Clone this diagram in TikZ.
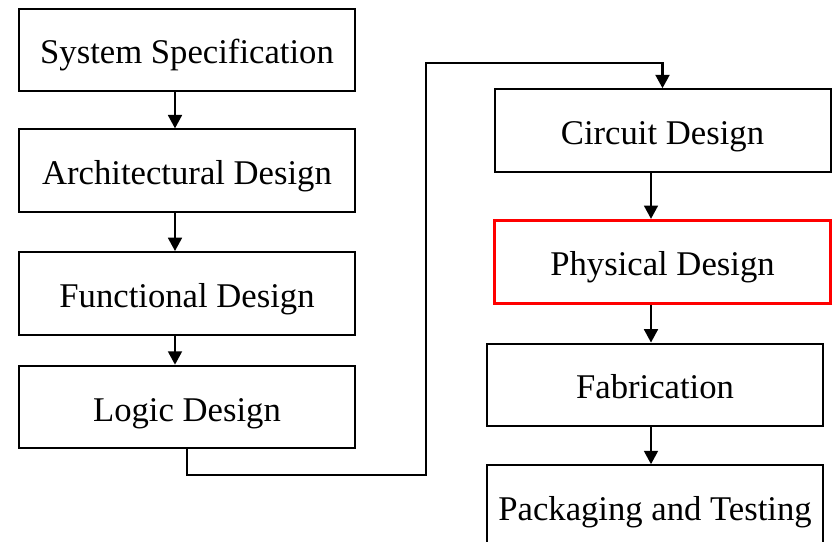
\documentclass[tikz,border=0pt]{standalone}
\usepackage{fontspec}
\setmainfont{Liberation Serif}
\usepackage{tikz}
\usetikzlibrary{arrows.meta, positioning}

\begin{document}
\begin{tikzpicture}[x=0.75pt, y=-0.75pt, font=\fontsize{26pt}{30pt}\selectfont,
    stage/.style={draw, line width=1.5pt, minimum width=252pt, minimum height=62pt, inner sep=2pt,
        text height=23pt, text depth=2pt},
    arr/.style={-{Triangle[width=10.5pt, length=10pt]}, line width=1.3pt}]
    \useasboundingbox (0,0) rectangle (836,542);
    \clip (0,0) rectangle (836,542);
    % left column
    \node[stage] (sys) at (187,50) {System Specification};
    \node[stage, below=27pt of sys] (arch) {Architectural Design};
    \node[stage, below=28.5pt of arch] (func) {Functional Design};
    \node[stage, below=21.75pt of func] (logic) {Logic Design};
    % right column
    \node[stage] (circuit) at (662.5,130.5) {Circuit Design};
    \node[stage, draw=red, line width=2.25pt, below=34.5pt of circuit] (phys) {Physical Design};
    \node[stage, below=28.5pt of phys, xshift=-5.6pt] (fab) {Fabrication};
    \node[stage, below=27.75pt of fab] (pack) {Packaging and Testing};
    \coordinate (lcol) at (175,0);
    \coordinate (rcol) at (651,0);
    \coordinate (low) at (426,475);
    \coordinate (high) at (426,63);
    \draw[arr] (sys.south -| lcol) -- (arch.north -| lcol);
    \draw[arr] (arch.south -| lcol) -- (func.north -| lcol);
    \draw[arr] (func.south -| lcol) -- (logic.north -| lcol);
    \draw[arr, line width=1.6pt] (logic.south) |- (low) -- (high) -| (circuit.north);
    \draw[arr] (circuit.south -| rcol) -- (phys.north -| rcol);
    \draw[arr] (phys.south -| rcol) -- (fab.north -| rcol);
    \draw[arr] (fab.south -| rcol) -- (pack.north -| rcol);
\end{tikzpicture}
\end{document}
